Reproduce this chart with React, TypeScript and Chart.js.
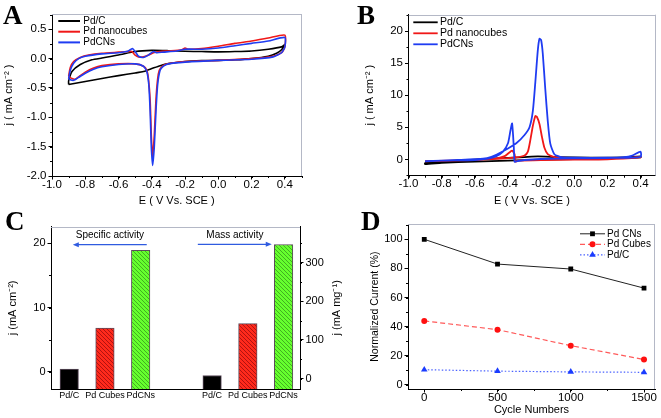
import React, { useEffect, useRef } from 'react';
import { Chart, registerables } from 'chart.js';

Chart.register(...registerables);

const FONT = "'Liberation Sans', Arial, Helvetica, sans-serif";
const BLACK = '#000000';
const RED = '#f01818';
const BLUE = '#1f3cf2';
const FRAME = '#b4b8c6';

// ---------------- Panel A : CV (j vs E) ----------------
const A_SERIES = ['Pd/C', 'Pd nanocubes', 'PdCNs'];
const A_X_TICKS = [-1.0, -0.8, -0.6, -0.4, -0.2, 0.0, 0.2, 0.4];
const A_Y_TICKS = [-2.0, -1.5, -1.0, -0.5, 0.0, 0.5];
const A_PDC_E = [-0.9, -0.8, -0.7, -0.6, -0.5, -0.45, -0.42, -0.4, -0.35, -0.3, -0.2, -0.1, 0.0, 0.1, 0.2, 0.3, 0.35, 0.38, 0.4, 0.38, 0.3, 0.2, 0.1, 0.0, -0.1, -0.2, -0.3, -0.4, -0.5, -0.6, -0.7, -0.76, -0.83, -0.88, -0.9, -0.9];
const A_PDC_J = [-0.44, -0.39, -0.34, -0.29, -0.245, -0.22, -0.19, -0.17, -0.12, -0.085, -0.05, -0.035, -0.03, -0.02, 0.0, 0.04, 0.09, 0.15, 0.24, 0.2, 0.16, 0.13, 0.12, 0.115, 0.12, 0.125, 0.135, 0.14, 0.12, 0.06, 0.01, -0.02, -0.1, -0.22, -0.38, -0.44];
const A_CUBE_E = [-0.9, -0.89, -0.87, -0.83, -0.78, -0.7, -0.6, -0.55, -0.52, -0.5, -0.48, -0.45, -0.42, -0.39, -0.35, -0.3, -0.22, -0.2, -0.18, -0.1, 0.0, 0.1, 0.2, 0.3, 0.4,
  0.4, 0.38, 0.33, 0.2, 0.0, -0.2, -0.28, -0.32, -0.34, -0.355, -0.365, -0.375, -0.385, -0.395, -0.403, -0.41, -0.42, -0.43, -0.45, -0.5, -0.6, -0.7, -0.75, -0.8, -0.84, -0.86, -0.88, -0.9];
const A_CUBE_J = [-0.3, -0.15, -0.05, 0.02, 0.06, 0.09, 0.11, 0.12, 0.12, 0.06, 0.03, 0.03, 0.06, 0.1, 0.12, 0.13, 0.15, 0.18, 0.16, 0.17, 0.21, 0.26, 0.3, 0.35, 0.4,
  0.2, 0.1, 0.04, 0.0, -0.03, -0.05, -0.075, -0.1, -0.14, -0.2, -0.35, -0.7, -1.3, -1.68, -1.3, -0.7, -0.35, -0.2, -0.13, -0.09, -0.09, -0.12, -0.16, -0.23, -0.31, -0.35, -0.34, -0.3];
const A_CNS_E = [-0.9, -0.89, -0.87, -0.84, -0.8, -0.7, -0.6, -0.55, -0.53, -0.515, -0.5, -0.48, -0.45, -0.42, -0.39, -0.37, -0.33, -0.25, -0.2, -0.1, 0.0, 0.1, 0.2, 0.3, 0.4,
  0.4, 0.38, 0.33, 0.2, 0.0, -0.2, -0.3, -0.33, -0.35, -0.365, -0.375, -0.385, -0.395, -0.403, -0.41, -0.418, -0.43, -0.45, -0.5, -0.6, -0.7, -0.75, -0.8, -0.84, -0.87, -0.89, -0.9];
const A_CNS_J = [-0.34, -0.2, -0.08, 0.0, 0.04, 0.08, 0.1, 0.12, 0.15, 0.17, 0.12, 0.04, 0.02, 0.06, 0.12, 0.1, 0.11, 0.13, 0.16, 0.16, 0.18, 0.22, 0.26, 0.3, 0.36,
  0.2, 0.1, 0.03, -0.01, -0.03, -0.06, -0.09, -0.13, -0.2, -0.45, -0.9, -1.5, -1.82, -1.5, -0.9, -0.45, -0.22, -0.13, -0.09, -0.1, -0.14, -0.18, -0.25, -0.32, -0.37, -0.36, -0.34];

// ---------------- Panel B : ethanol oxidation CV ----------------
const B_X_TICKS = [-1.0, -0.8, -0.6, -0.4, -0.2, 0.0, 0.2, 0.4];
const B_Y_TICKS = [0, 5, 10, 15, 20];
const B_PDC_E = [-0.9, -0.7, -0.5, -0.3, -0.22, -0.1, 0.1, 0.3, 0.4, 0.4, 0.2, 0.0, -0.2, -0.4, -0.6, -0.8, -0.9, -0.9];
const B_PDC_J = [-0.5, -0.2, 0.1, 0.35, 0.45, 0.35, 0.25, 0.3, 0.45, 0.3, 0.15, 0.05, -0.05, -0.2, -0.35, -0.55, -0.75, -0.5];
const B_CUBE_E = [-0.9, -0.6, -0.45, -0.35, -0.3, -0.28, -0.265, -0.25, -0.235, -0.225, -0.21, -0.195, -0.18, -0.16, -0.12, 0.0, 0.2, 0.35, 0.4,
  0.4, 0.2, 0.0, -0.2, -0.34, -0.355, -0.36, -0.375, -0.39, -0.42, -0.48, -0.6, -0.9];
const B_CUBE_J = [-0.3, -0.1, 0.1, 0.3, 0.6, 1.2, 3.0, 5.2, 6.75, 6.6, 5.5, 3.5, 1.8, 0.8, 0.35, 0.2, 0.15, 0.25, 0.4,
  0.3, 0.0, -0.05, -0.1, -0.2, -0.35, 0.8, 1.35, 1.1, 0.5, 0.1, -0.1, -0.3];
const B_CNS_E = [-0.9, -0.7, -0.55, -0.5, -0.45, -0.4, -0.35, -0.3, -0.27, -0.25, -0.235, -0.22, -0.21, -0.2, -0.19, -0.175, -0.16, -0.145, -0.12, -0.08, 0.0, 0.2, 0.3, 0.35, 0.4,
  0.4, 0.2, 0.0, -0.2, -0.3, -0.35, -0.36, -0.365, -0.375, -0.385, -0.4, -0.43, -0.47, -0.52, -0.6, -0.8, -0.9];
const B_CNS_J = [-0.3, -0.1, 0.1, 0.4, 1.0, 1.7, 2.5, 3.8, 5.0, 7.5, 12, 17, 18.8, 18.6, 16.5, 11, 6, 2.5, 0.8, 0.35, 0.25, 0.25, 0.35, 0.6, 1.2,
  0.4, 0.2, 0.15, 0.05, -0.1, -0.3, -0.4, 2.0, 5.6, 4.5, 2.5, 1.2, 0.5, 0.1, -0.1, -0.2, -0.3];

// ---------------- Panel C : activities ----------------
const C_CATS = ['Pd/C', 'Pd Cubes', 'PdCNs'];
const C_SPEC_POS = [1, 2, 3];
const C_MASS_POS = [5, 6, 7];
const C_SPECIFIC = [0.4, 6.8, 18.9];
const C_MASS = [8, 142, 347];
const C_Y_TICKS = [0, 10, 20];
const C_Y1_TICKS = [0, 100, 200, 300];
const C_NOTES = [
  { text: 'Specific activity', tx: 2.14, ty: 21.2, from: 3.17, to: 1.1, ay: 19.8 },
  { text: 'Mass activity', tx: 5.64, ty: 21.2, from: 4.6, to: 6.67, ay: 19.85 },
];

// ---------------- Panel D : stability ----------------
const D_SERIES = ['Pd CNs', 'Pd Cubes', 'Pd/C'];
const D_CYCLES = [0, 500, 1000, 1500];
const D_CNS = [100, 83, 79.6, 66.5];
const D_CUBES = [44, 38, 27, 17.5];
const D_PDC = [10.5, 9.5, 9, 8.7];
const D_X_TICKS = [0, 500, 1000, 1500];
const D_Y_TICKS = [0, 20, 40, 60, 80, 100];

const pts = (xs: number[], ys: number[]) => xs.map((x, i) => ({ x, y: ys[i] }));
const fmt1 = (v: number) => (Math.abs(v) < 1e-9 ? '0.0' : v.toFixed(1));
const fmt0 = (v: number) => String(Math.round(v));

function drawMarker(ctx: CanvasRenderingContext2D, style: string, x: number, y: number, r: number, color: string) {
  ctx.fillStyle = color;
  ctx.beginPath();
  if (style === 'rect') {
    const s = Math.SQRT1_2 * r;
    ctx.rect(x - s, y - s, 2 * s, 2 * s);
  } else if (style === 'triangle') {
    let rad = 0;
    ctx.moveTo(x + Math.sin(rad) * r, y - Math.cos(rad) * r);
    rad += (2 * Math.PI) / 3;
    ctx.lineTo(x + Math.sin(rad) * r, y - Math.cos(rad) * r);
    rad += (2 * Math.PI) / 3;
    ctx.lineTo(x + Math.sin(rad) * r, y - Math.cos(rad) * r);
    ctx.closePath();
  } else {
    ctx.arc(x, y, r, 0, Math.PI * 2);
  }
  ctx.fill();
}

const decorPlugin = {
  id: 'decor',
  beforeDatasetsDraw(chart: any, _a: any, o: any) {
    if (!o || !o.frame) return;
    const { ctx, chartArea: a } = chart;
    ctx.save();
    ctx.strokeStyle = o.frame;
    ctx.lineWidth = 1;
    ctx.beginPath();
    const ty = Math.round(a.top) + 0.5;
    ctx.moveTo(a.left, ty);
    ctx.lineTo(a.right, ty);
    if (o.frameRight) {
      const rx = Math.round(a.right) - 0.5;
      ctx.moveTo(rx, a.top);
      ctx.lineTo(rx, a.bottom);
    }
    ctx.stroke();
    ctx.restore();
  },
  afterDraw(chart: any, _a: any, o: any) {
    if (!o) return;
    const { ctx, chartArea: a } = chart;
    ctx.save();
    // minor ticks
    (o.minor || []).forEach((m: any) => {
      const s = chart.scales[m.axis];
      ctx.strokeStyle = '#000';
      ctx.lineWidth = 1;
      ctx.beginPath();
      const start = Math.ceil(s.min / m.step - 1e-9);
      for (let k = start; k * m.step <= s.max + 1e-9; k++) {
        const v = k * m.step;
        const p = Math.round(s.getPixelForValue(v)) + 0.5;
        if (s.isHorizontal()) {
          ctx.moveTo(p, a.bottom);
          ctx.lineTo(p, a.bottom + m.len);
        } else if (s.position === 'right') {
          ctx.moveTo(a.right, p);
          ctx.lineTo(a.right + m.len, p);
        } else {
          ctx.moveTo(a.left, p);
          ctx.lineTo(a.left - m.len, p);
        }
      }
      ctx.stroke();
    });
    // legend
    const L = o.legend;
    if (L) {
      ctx.font = `${L.size}px ${FONT}`;
      ctx.textBaseline = 'middle';
      ctx.textAlign = 'left';
      chart.data.datasets.forEach((ds: any, i: number) => {
        const y = a.top + L.y + i * L.rowH;
        const x0 = (L.fromRight ? a.right : a.left) + L.x;
        ctx.strokeStyle = ds.borderColor;
        ctx.lineWidth = L.lineWidth ?? ds.borderWidth;
        ctx.setLineDash(ds.borderDash || []);
        ctx.beginPath();
        ctx.moveTo(x0, y);
        ctx.lineTo(x0 + L.len, y);
        ctx.stroke();
        ctx.setLineDash([]);
        if (L.markers) drawMarker(ctx, ds.pointStyle, x0 + L.len / 2, y, ds.pointRadius, ds.pointBackgroundColor);
        ctx.fillStyle = '#000';
        ctx.fillText(ds.label, x0 + L.len + L.gap, y);
      });
    }
    // annotations (text + arrows) in data units
    (o.notes || []).forEach((n: any) => {
      const xs = chart.scales.x;
      const ys = chart.scales.y;
      ctx.font = `${o.noteSize}px ${FONT}`;
      ctx.fillStyle = '#000';
      ctx.textAlign = 'center';
      ctx.textBaseline = 'middle';
      ctx.fillText(n.text, xs.getPixelForValue(n.tx), ys.getPixelForValue(n.ty));
      const x1 = xs.getPixelForValue(n.from);
      const x2 = xs.getPixelForValue(n.to);
      const y = ys.getPixelForValue(n.ay);
      const dir = x2 > x1 ? 1 : -1;
      ctx.strokeStyle = o.arrowColor;
      ctx.fillStyle = o.arrowColor;
      ctx.lineWidth = 1.2;
      ctx.beginPath();
      ctx.moveTo(x1, y);
      ctx.lineTo(x2 - dir * 4, y);
      ctx.stroke();
      ctx.beginPath();
      ctx.moveTo(x2, y);
      ctx.lineTo(x2 - dir * 6, y - 2.5);
      ctx.lineTo(x2 - dir * 6, y + 2.5);
      ctx.closePath();
      ctx.fill();
    });
    // right-side title reading bottom-to-top
    if (o.rightTitle) {
      const s = chart.scales[o.rightTitle.axis];
      ctx.font = `${o.rightTitle.size}px ${FONT}`;
      ctx.fillStyle = '#000';
      ctx.textAlign = 'center';
      ctx.textBaseline = 'middle';
      ctx.translate(s.right - o.rightTitle.offset, (a.top + a.bottom) / 2);
      ctx.rotate(-Math.PI / 2);
      ctx.fillText(o.rightTitle.text, 0, 0);
    }
    ctx.restore();
  },
};
Chart.register(decorPlugin);

function axis(p: any) {
  return {
    type: 'linear',
    position: p.position,
    offset: false,
    min: p.min,
    max: p.max,
    afterBuildTicks: (s: any) => {
      s.ticks = p.ticks.map((v: number) => ({ value: v }));
    },
    afterFit: (s: any) => {
      if (p.horizontal) s.height = p.fixed;
      else s.width = p.fixed;
    },
    border: { display: true, color: '#000', width: 1 },
    grid: {
      display: true,
      offset: false,
      drawOnChartArea: false,
      drawTicks: p.drawTicks !== false,
      tickLength: p.tickLen ?? 3.5,
      tickColor: '#000',
      tickWidth: 1,
    },
    ticks: {
      color: '#000',
      font: { family: FONT, size: p.size },
      padding: p.pad ?? 2,
      callback: (v: number) => p.fmt(v),
      maxRotation: 0,
      autoSkip: false,
      includeBounds: false,
    },
    title: p.title
      ? {
          display: true,
          text: p.title,
          color: '#000',
          font: { family: FONT, size: p.titleSize ?? 11 },
          padding: { top: p.titlePad ?? 0, bottom: p.titlePad ?? 0 },
        }
      : { display: false },
  };
}

function baseOptions(padding: any, decor: any, scales: any) {
  return {
    responsive: false,
    animation: false,
    devicePixelRatio: 1,
    layout: { padding },
    plugins: { legend: { display: false }, tooltip: { enabled: false }, decor },
    elements: { point: { radius: 0 } },
    scales,
  };
}

function lineDs(label: string, data: any[], color: string, order: number, width: number) {
  return {
    label,
    data,
    showLine: true,
    borderColor: color,
    backgroundColor: color,
    borderWidth: width,
    pointRadius: 0,
    tension: 0.2,
    fill: false,
    order,
  };
}

function buildA() {
  return {
    type: 'scatter',
    data: {
      datasets: [
        lineDs(A_SERIES[0], pts(A_PDC_E, A_PDC_J), BLACK, 2, 1.6),
        lineDs(A_SERIES[1], pts(A_CUBE_E, A_CUBE_J), RED, 1, 1.6),
        lineDs(A_SERIES[2], pts(A_CNS_E, A_CNS_J), BLUE, 0, 1.6),
      ],
    },
    options: baseOptions(
      { left: 0, top: 14, right: 28.5, bottom: 0 },
      {
        frame: FRAME,
        frameRight: true,
        minor: [
          { axis: 'x', step: 0.1, len: 2 },
          { axis: 'y', step: 0.25, len: 2 },
        ],
        legend: { x: 6.3, y: 7, rowH: 10.7, len: 21.7, gap: 3.3, size: 10, lineWidth: 2 },
      },
      {
        x: axis({ min: -1.0, max: 0.5, ticks: A_X_TICKS, fmt: fmt1, size: 11.5, fixed: 34, horizontal: true, pad: -2, title: 'E ( V Vs. SCE )', titleSize: 11, titlePad: 2 }),
        y: axis({ min: -2.0, max: 0.76, ticks: A_Y_TICKS, fmt: fmt1, size: 11.5, fixed: 52, horizontal: false, pad: 2, title: 'j ( mA cm⁻² )', titleSize: 11, titlePad: 2.4 }),
      }
    ),
  };
}

function buildB() {
  return {
    type: 'scatter',
    data: {
      datasets: [
        lineDs(A_SERIES[0], pts(B_PDC_E, B_PDC_J), BLACK, 2, 1.8),
        lineDs(A_SERIES[1], pts(B_CUBE_E, B_CUBE_J), RED, 1, 1.8),
        lineDs(A_SERIES[2], pts(B_CNS_E, B_CNS_J), BLUE, 0, 1.8),
      ],
    },
    options: baseOptions(
      { left: 0, top: 14.7, right: 5.5, bottom: 0 },
      {
        frame: FRAME,
        frameRight: true,
        minor: [
          { axis: 'x', step: 0.1, len: 2 },
          { axis: 'y', step: 2.5, len: 2 },
        ],
        legend: { x: 4.8, y: 7.6, rowH: 11, len: 24.4, gap: 2.3, size: 10.5, lineWidth: 1.8 },
      },
      {
        x: axis({ min: -1.0, max: 0.49, ticks: B_X_TICKS, fmt: fmt1, size: 11.5, fixed: 34.3, horizontal: true, pad: -2, title: 'E ( V Vs. SCE )', titleSize: 11, titlePad: 2 }),
        y: axis({ min: -2.55, max: 22.55, ticks: B_Y_TICKS, fmt: fmt0, size: 11.5, fixed: 78.5, horizontal: false, pad: 2, title: 'j ( mA cm⁻² )', titleSize: 11, titlePad: 33.4 }),
      }
    ),
  };
}

function hatch(ctx: CanvasRenderingContext2D, bg: string, fg: string) {
  const c = document.createElement('canvas');
  const n = 4;
  c.width = n;
  c.height = n;
  const g = c.getContext('2d')!;
  g.fillStyle = bg;
  g.fillRect(0, 0, n, n);
  g.strokeStyle = fg;
  g.lineWidth = 0.9;
  g.beginPath();
  g.moveTo(-1, -1);
  g.lineTo(n + 1, n + 1);
  g.moveTo(-1, n - 1);
  g.lineTo(1, n + 1);
  g.moveTo(n - 1, -1);
  g.lineTo(n + 1, 1);
  g.stroke();
  return ctx.createPattern(c, 'repeat');
}

const C_X_MIN = 0.49;
const C_Y_MIN = -2.7;
const C_Y1_MIN = -27;

function buildC(ctx: CanvasRenderingContext2D) {
  const fills = [BLACK, hatch(ctx, '#ff2a1c', '#a81010'), hatch(ctx, '#66ff2e', '#3da81e')];
  const barDs = (data: any[], axisId: string, base: number) => ({
    data,
    yAxisID: axisId,
    backgroundColor: fills,
    borderColor: '#5c4c5c',
    borderWidth: 1,
    base,
    barThickness: 18.5,
    grouped: false,
  });
  const positions = [...C_SPEC_POS, ...C_MASS_POS];
  return {
    type: 'bar',
    data: {
      datasets: [
        barDs(pts(C_SPEC_POS, C_SPECIFIC), 'y', C_Y_MIN),
        barDs(pts(C_MASS_POS, C_MASS), 'y1', C_Y1_MIN),
      ],
    },
    options: baseOptions(
      { left: 0, top: 16.7, right: 0, bottom: 0 },
      {
        frame: FRAME,
        frameRight: false,
        minor: [
          { axis: 'y', step: 5, len: 2 },
          { axis: 'y1', step: 50, len: 2 },
        ],
        notes: C_NOTES,
        noteSize: 10,
        arrowColor: '#2f5be0',
        rightTitle: { axis: 'y1', text: 'j (mA mg⁻¹)', size: 11, offset: 8.3 },
      },
      {
        x: axis({
          min: C_X_MIN,
          max: 7.46,
          ticks: positions,
          fmt: (v: number) => C_CATS[positions.indexOf(v) % 3] ?? '',
          size: 9,
          fixed: 29,
          horizontal: true,
          drawTicks: false,
          pad: 1,
        }),
        y: axis({ position: 'left', min: C_Y_MIN, max: 22.6, ticks: C_Y_TICKS, fmt: fmt0, size: 11, fixed: 51, horizontal: false, pad: 2, title: 'j (mA cm⁻²)', titleSize: 11, titlePad: 6.4 }),
        y1: axis({ position: 'right', min: C_Y1_MIN, max: 393, ticks: C_Y1_TICKS, fmt: fmt0, size: 11, fixed: 45, horizontal: false, pad: 2 }),
      }
    ),
  };
}

function buildD() {
  const mk = (label: string, ys: number[], line: string, dash: number[], style: string, r: number, fill: string, w: number, order: number) => ({
    label,
    data: pts(D_CYCLES, ys),
    borderColor: line,
    borderDash: dash,
    borderWidth: w,
    pointStyle: style,
    pointRadius: r,
    pointBackgroundColor: fill,
    pointBorderColor: fill,
    pointBorderWidth: 0,
    tension: 0,
    fill: false,
    order,
  });
  return {
    type: 'line',
    data: {
      datasets: [
        mk(D_SERIES[0], D_CNS, '#222222', [], 'rect', 3.4, '#000000', 1, 0),
        mk(D_SERIES[1], D_CUBES, '#ff5a5a', [5, 3], 'circle', 3, '#ff1010', 1.2, 1),
        mk(D_SERIES[2], D_PDC, '#4a62ff', [1.5, 2], 'triangle', 3.8, '#1a3cff', 1.2, 2),
      ],
    },
    options: baseOptions(
      { left: 0, top: 14.3, right: 6, bottom: 0 },
      {
        frame: FRAME,
        frameRight: true,
        minor: [
          { axis: 'x', step: 250, len: 2 },
          { axis: 'y', step: 10, len: 2 },
        ],
        legend: { x: -75, fromRight: true, y: 9.5, rowH: 10.5, len: 25, gap: 2, size: 10, markers: true },
      },
      {
        x: axis({ min: -111, max: 1575, ticks: D_X_TICKS, fmt: fmt0, size: 11.5, fixed: 29, horizontal: true, pad: -2, title: 'Cycle Numbers', titleSize: 11, titlePad: 1.5 }),
        y: axis({ min: -2.75, max: 110.3, ticks: D_Y_TICKS, fmt: fmt0, size: 11, fixed: 78, horizontal: false, pad: 2, title: 'Normalized Current (%)', titleSize: 10.5, titlePad: 38.4 }),
      }
    ),
  };
}

function Panel({ left, top, width, height, build }: any) {
  const ref = useRef<HTMLCanvasElement>(null);
  useEffect(() => {
    const canvas = ref.current!;
    const chart = new Chart(canvas, build(canvas.getContext('2d')!));
    return () => chart.destroy();
  }, []);
  return <canvas ref={ref} width={width} height={height} style={{ position: 'absolute', left, top, width, height }} />;
}

const letterStyle = (left: number, top: number): React.CSSProperties => ({
  position: 'absolute',
  left,
  top,
  fontFamily: "'Liberation Serif', 'Times New Roman', serif",
  fontWeight: 'bold',
  fontSize: 27,
  lineHeight: '27px',
  color: '#000',
});

export default function App() {
  return (
    <div style={{ position: 'fixed', left: 0, top: 0, width: 661, height: 418, background: '#fff', overflow: 'hidden' }}>
      <Panel left={0} top={0} width={330} height={210} build={buildA} />
      <Panel left={330} top={0} width={331} height={210} build={buildB} />
      <Panel left={0} top={210} width={345} height={208} build={buildC} />
      <Panel left={330} top={210} width={331} height={208} build={buildD} />
      <div style={letterStyle(3, 2)}>A</div>
      <div style={letterStyle(357, 2)}>B</div>
      <div style={letterStyle(5, 208)}>C</div>
      <div style={letterStyle(361, 208)}>D</div>
    </div>
  );
}
